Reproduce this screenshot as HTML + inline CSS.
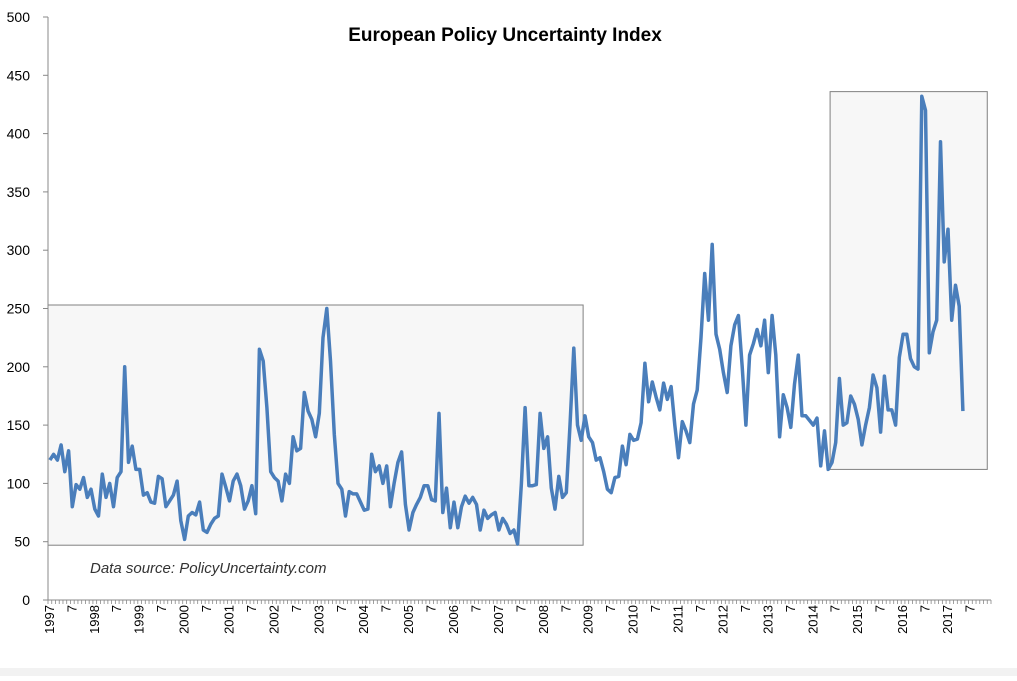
<!DOCTYPE html>
<html><head><meta charset="utf-8"><style>
body{margin:0;background:#fff;width:1017px;height:676px;overflow:hidden;font-family:"Liberation Sans",sans-serif}
</style></head><body>
<svg id="chart" width="1017" height="676">
<rect x="0" y="668" width="1017" height="8" fill="#f2f2f2"/>
<text x="505" y="41" text-anchor="middle" font-size="19" font-weight="bold" fill="#000">European Policy Uncertainty Index</text>
<g id="boxes"></g>
<g id="axes"></g>
<g id="series"></g>
<text x="90" y="573" font-size="15" font-style="italic" fill="#333">Data source: PolicyUncertainty.com</text>
</svg>
<script>
const years=[1997,1998,1999,2000,2001,2002,2003,2004,2005,2006,2007,2008,2009,2010,2011,2012,2013,2014,2015,2016,2017];
const yTicks=[0,50,100,150,200,250,300,350,400,450,500];
const values=[
120,125,120,133,110,128,80,99,95,105,88,95,
78,72,108,88,100,80,105,110,200,118,132,112,
112,90,92,84,83,106,104,80,85,90,102,68,
52,72,75,73,84,60,58,65,70,72,108,97,
85,102,108,98,78,85,98,74,215,205,165,110,
105,102,85,108,100,140,128,130,178,162,155,140,
160,225,250,205,142,100,95,72,93,91,91,84,
77,78,125,110,115,100,115,80,100,118,127,82,
60,75,82,88,98,98,86,85,160,75,96,62,
84,62,80,89,83,88,82,60,77,70,73,75,
60,70,65,57,60,48,100,165,98,98,99,160,
130,140,96,78,106,88,92,150,216,150,137,158,
140,135,120,122,110,95,92,105,106,132,116,142,
137,138,152,203,170,187,174,163,186,172,183,150,
122,153,145,135,168,180,225,280,240,305,228,215,
195,178,218,236,244,200,150,210,220,232,218,240,
195,244,210,140,176,165,148,185,210,158,158,154,
150,156,115,145,112,118,135,190,150,152,175,168,
155,133,150,165,193,182,144,192,163,163,150,208,
228,228,207,200,198,432,420,212,230,240,393,290,
318,240,270,252,162];
const boxRanges=[[0,143,47,253],[209,251,112,436]]; // [startMonth,endMonth,low,high]

const NS="http://www.w3.org/2000/svg";
const X0=48,X1=991,Y0=600,Y1=17,NM=252;
const mw=(X1-X0)/NM;
const xm=i=>X0+(i+0.5)*mw;
const xe=i=>X0+i*mw;
const yv=v=>Y0-(v/500)*(Y0-Y1);
function mk(tag,attrs,parent){const e=document.createElementNS(NS,tag);for(const k in attrs)e.setAttribute(k,attrs[k]);parent.appendChild(e);return e;}
const gB=document.getElementById('boxes'),gA=document.getElementById('axes'),gS=document.getElementById('series');
boxRanges.forEach((b,k)=>{
 const r=mk('rect',{x:xe(b[0]),y:yv(b[3]),width:xe(b[1])-xe(b[0]),height:yv(b[2])-yv(b[3]),fill:'#f7f7f7',stroke:'#808080','stroke-width':1},gB);
 
 
});
mk('line',{x1:X0,y1:Y1,x2:X0,y2:Y0,stroke:'#888','stroke-width':1},gA);
mk('line',{x1:X0,y1:Y0,x2:X1,y2:Y0,stroke:'#888','stroke-width':1},gA);
yTicks.forEach(t=>{
 mk('line',{x1:X0-5,y1:yv(t),x2:X0,y2:yv(t),stroke:'#888'},gA);
 const tx=mk('text',{x:30,y:yv(t)+5,'text-anchor':'end','font-size':14,fill:'#000'},gA);
 tx.textContent=t;
 
 
});
for(let i=0;i<=NM;i++){mk('line',{x1:xe(i),y1:Y0,x2:xe(i),y2:Y0+4,stroke:'#888','stroke-width':0.8},gA);}
years.forEach((y,k)=>{
 [[k*12,String(y)],[k*12+6,'7']].forEach(([i,s])=>{
  const x=xm(i)+4,yy=605;
  const tx=mk('text',{x:x,y:yy,'text-anchor':'end','font-size':13,fill:'#000',transform:`rotate(-90 ${x} ${yy})`},gA);
  tx.textContent=s;
  
  
 });
});
const p=mk('polyline',{points:values.map((v,i)=>xm(i).toFixed(1)+','+yv(v).toFixed(1)).join(' '),fill:'none',stroke:'#4a7ebb','stroke-width':3.5,'stroke-linejoin':'round'},gS);


</script>
</body></html>
